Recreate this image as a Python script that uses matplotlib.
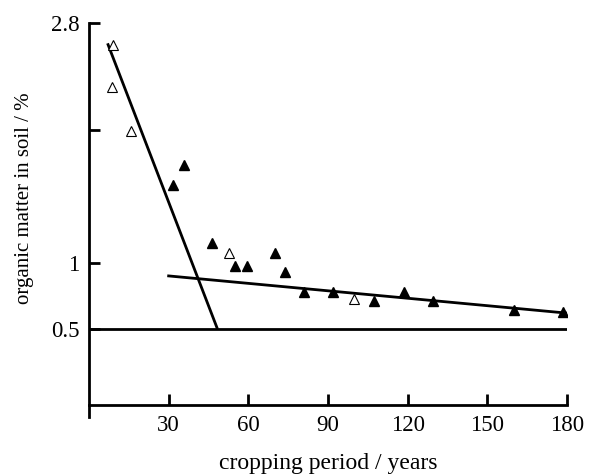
import matplotlib
matplotlib.use("Agg")
import matplotlib.pyplot as plt

plt.rcParams['font.family'] = ['Liberation Serif', 'DejaVu Serif']

# hollow triangles
open_x = [9.2, 8.5, 16.0, 52.6, 99.7]
open_y = [2.64, 2.32, 1.99, 1.07, 0.73]

# filled triangles
fill_x = [31.8, 35.6, 46.2, 54.8, 59.4, 69.9, 73.7, 80.8, 91.8, 107.2, 118.5, 129.5, 160.0, 178.5]
fill_y = [1.585, 1.735, 1.15, 0.975, 0.975, 1.075, 0.93, 0.78, 0.78, 0.71, 0.78, 0.71, 0.64, 0.63]

# fitted lines
steep_x = [7.0, 48.4]
steep_y = [2.65, 0.50]
slow_x = [30, 180]
slow_y = [0.90, 0.62]
base_x = [0, 180]
base_y = [0.5, 0.5]

xticks = [30, 60, 90, 120, 150, 180]
yticks = [0.5, 1, 2, 2.8]
ylabels = ['0.5', '1', '', '2.8']

fig = plt.figure(figsize=(5.9, 4.74), dpi=100)
ax = fig.add_axes([0.1508, 0.1207, 0.961 - 0.1508, 0.8299])

ax.plot(steep_x, steep_y, color='black', lw=2.0, solid_capstyle='butt')
ax.plot(slow_x, slow_y, color='black', lw=2.0)
ax.plot(base_x, base_y, color='black', lw=2.0)

ax.plot(fill_x, fill_y, linestyle='none', marker='^', ms=7, color='black')
ax.plot(open_x, open_y, linestyle='none', marker='^', ms=7, mfc='white',
        mec='black', mew=0.8)

ax.set_xlim(0, 180)
ax.set_ylim(-0.16, 2.8)
ax.spines['bottom'].set_position(('data', -0.07))
ax.spines['top'].set_visible(False)
ax.spines['right'].set_visible(False)
for s in ['left', 'bottom']:
    ax.spines[s].set_linewidth(2.0)

ax.set_xticks(xticks)
ax.set_yticks(yticks)
ax.set_yticklabels(ylabels)
ax.tick_params(direction='in', length=8, width=2.0, labelsize=16.5, pad=7)

ax.set_xlabel('cropping period / years', fontsize=17)
ax.xaxis.set_label_coords(0.501, -0.092)
ax.set_ylabel('organic matter in soil / %', fontsize=15)
ax.yaxis.set_label_coords(-0.115, 0.556)

fig.savefig('out.png', dpi=100)
